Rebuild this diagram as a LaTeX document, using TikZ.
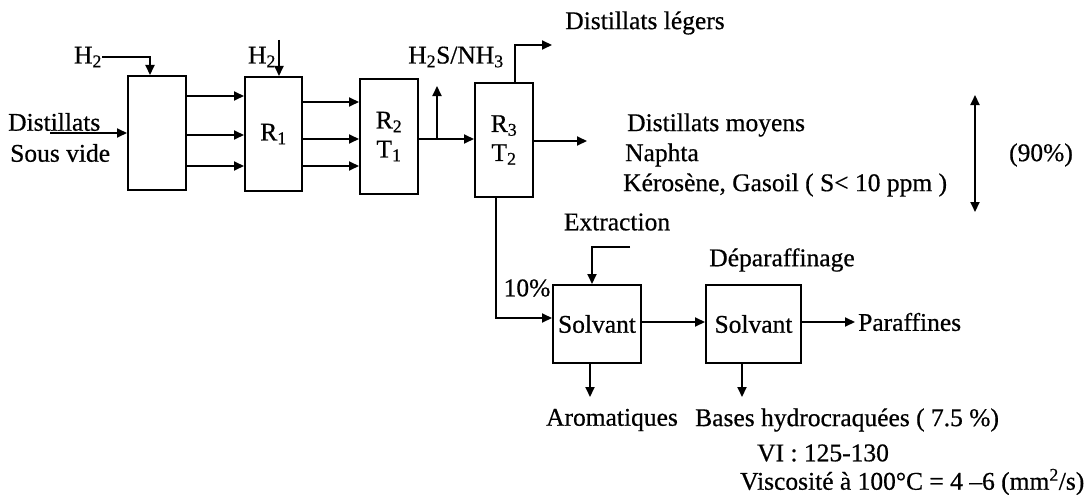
\documentclass[tikz,border=0pt]{standalone}
\usepackage{fontspec}
\setmainfont[FakeBold=0.6]{Liberation Serif}
\usetikzlibrary{arrows.meta,calc}
\begin{document}
\begin{tikzpicture}[x=1pt,y=-1pt,
  every node/.style={font=\fontsize{25.5}{29}\selectfont},
  box/.style={draw,line width=2pt,inner sep=0pt,align=center},
  lbl/.style={inner sep=0pt},
  arr/.style={line width=2pt,-{Triangle[length=10pt,width=9pt]}},
  dbl/.style={line width=2pt,{Triangle[length=10pt,width=9pt]}-{Triangle[length=10pt,width=9pt]}}]
\useasboundingbox (0,0) rectangle (1090,495);
% boxes
\node[box,minimum width=58pt,minimum height=114pt] (b0) at (157,133) {};
\node[box,minimum width=57pt,minimum height=114pt] (r1) at (273.5,134) {R\textsubscript{1}};
\node[box,minimum width=58pt,minimum height=115pt] (r2) at (389,136.5) {R\textsubscript{2}\\T\textsubscript{1}};
\node[box,minimum width=58pt,minimum height=114pt] (r3) at (504,140) {R\textsubscript{3}\\T\textsubscript{2}};
\node[box,minimum width=88pt,minimum height=78pt] (s1) at (597,324) {Solvant};
\node[box,minimum width=95pt,minimum height=78pt] (s2) at (753.5,324) {Solvant};
% labels
\node[lbl] (h2a) at (88,57) {H\textsubscript{2}};
\node[lbl] (h2b) at (262,57) {H\textsubscript{2}};
\node[lbl,anchor=west] (dist) at (8,122) {Distillats};
\node[lbl,anchor=west] (sv) at (10,153) {Sous vide};
\node[lbl] (h2s) at (456,57) {H\textsubscript{2}S/NH\textsubscript{3}};
\node[lbl] (dl) at (645,23) {Distillats légers};
\node[lbl,anchor=west] (dm) at (627,125) {Distillats moyens};
\node[lbl,anchor=west] (na) at (625,155) {Naphta};
\node[lbl,anchor=west] (ke) at (623,185) {Kérosène, Gasoil ( S< 10 ppm )};
\node[lbl] (pc) at (1041,155) {(90\%)};
\node[lbl] (ex) at (617,222) {Extraction};
\node[lbl] (dp) at (782,260) {Déparaffinage};
\node[lbl] (ten) at (527,288) {10\%};
\node[lbl,anchor=west] (pa) at (858,322) {Paraffines};
\node[lbl] (ar) at (612,420) {Aromatiques};
\node[lbl,anchor=west] (ba) at (695,420) {Bases hydrocraquées ( 7.5 \%)};
\node[lbl,anchor=west] (vi) at (757,453) {VI : 125-130};
\node[lbl,anchor=west] (vs) at (740,482) {Viscosité à 100°C = 4 –6 (mm\textsuperscript{2}/s)};
% coordinates
\coordinate (h2bt) at (279,40);
\coordinate (din) at (50,133);
\coordinate (hs) at (437,139);
\coordinate (hsend) at (437,86);
\coordinate (dlc) at (515,45);
\coordinate (dlend) at (552,45);
\coordinate (dmend) at (587,141);
\coordinate (dtop) at (975,95);
\coordinate (dbot) at (975,212);
\coordinate (bot) at (496,318);
\coordinate (exs) at (630,247);
\coordinate (exc) at (592,247);
\coordinate (pend) at (855,322);
\coordinate (aend) at (590,397);
\coordinate (bend) at (742,397);
% connectors
\draw[arr] (h2a.east) -| (b0.north -| 150,0);
\draw[arr] (h2bt) -- (h2bt |- r1.north);
\draw[arr] (din) -- (b0.west);
\foreach \y in {96,135,166} \draw[arr] (b0.east |- 0,\y) -- (r1.west |- 0,\y);
\foreach \y in {102,139,166} \draw[arr] (r1.east |- 0,\y) -- (r2.west |- 0,\y);
\draw[arr] (r2.east |- hs) -- (r3.west |- hs);
\draw[arr] (hs) -- (hsend);
\draw[arr] (dlc |- r3.north) -- (dlc) -- (dlend);
\draw[arr] (r3.east |- dmend) -- (dmend);
\draw[dbl] (dtop) -- (dbot);
\draw[arr] (bot |- r3.south) -- (bot) -- (s1.west |- bot);
\draw[arr] (exs) -- (exc) -- (exc |- s1.north);
\draw[arr] (s1.east |- pend) -- (s2.west |- pend);
\draw[arr] (s2.east |- pend) -- (pend);
\draw[arr] (aend |- s1.south) -- (aend);
\draw[arr] (bend |- s2.south) -- (bend);
\end{tikzpicture}
\end{document}
